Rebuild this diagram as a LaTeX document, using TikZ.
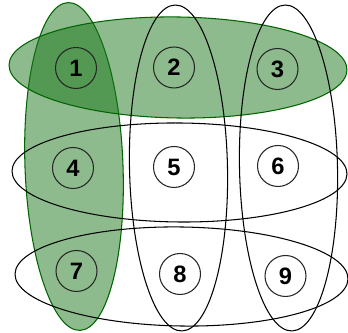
\documentclass[tikz,border=0pt]{standalone}
\usepackage{fontspec}
\setmainfont{Liberation Sans}
\usepackage{xcolor}
\usetikzlibrary{positioning}
\definecolor{setgreen}{RGB}{27,119,27}
\definecolor{setedge}{RGB}{0,100,0}

\begin{document}
\begin{tikzpicture}[
  x=0.02cm, y=0.02cm,
  elem/.style={draw=black!85, circle, line width=0.6pt, minimum size=0.82cm,
               inner sep=0pt, font=\fontsize{13.5pt}{16pt}\selectfont\bfseries},
  chosen/.style={draw=setedge, fill=setgreen, fill opacity=0.5, line width=0.6pt},
  plain/.style={draw=black, line width=0.6pt}
]
\useasboundingbox (0,0) rectangle (348,333);
% highlighted sets
\draw[chosen, rotate around={2.1:(74,166.5)}] (74,166.5) ellipse [x radius=49, y radius=164];
\draw[chosen, rotate around={-0.85:(178,265.5)}] (178,265.5) ellipse [x radius=169, y radius=50.5];
% other sets
\draw[plain, rotate around={1.2:(178.5,165)}] (178.5,165) ellipse [x radius=49, y radius=163];
\draw[plain, rotate around={1.2:(288.5,165)}] (288.5,165) ellipse [x radius=49, y radius=163];
\draw[plain, rotate around={-0.5:(179.5,160.5)}] (179.5,160.5) ellipse [x radius=167.5, y radius=49.5];
\draw[plain, rotate around={-0.85:(181.5,56.5)}] (181.5,56.5) ellipse [x radius=166.5, y radius=49.5];
% the nine elements
\node[elem] (e1) at (76,265) {1};
\node[elem] (e2) at (174,265.5) {2};
\node[elem] (e3) at (277.5,264) {3};
\node[elem] (e4) at (73,165) {4};
\node[elem] (e5) at (174,166) {5};
\node[elem] (e6) at (278,167) {6};
\node[elem] (e7) at (76.5,62) {7};
\node[elem] (e8) at (180,59) {8};
\node[elem] (e9) at (285.5,57) {9};
\end{tikzpicture}
\end{document}
